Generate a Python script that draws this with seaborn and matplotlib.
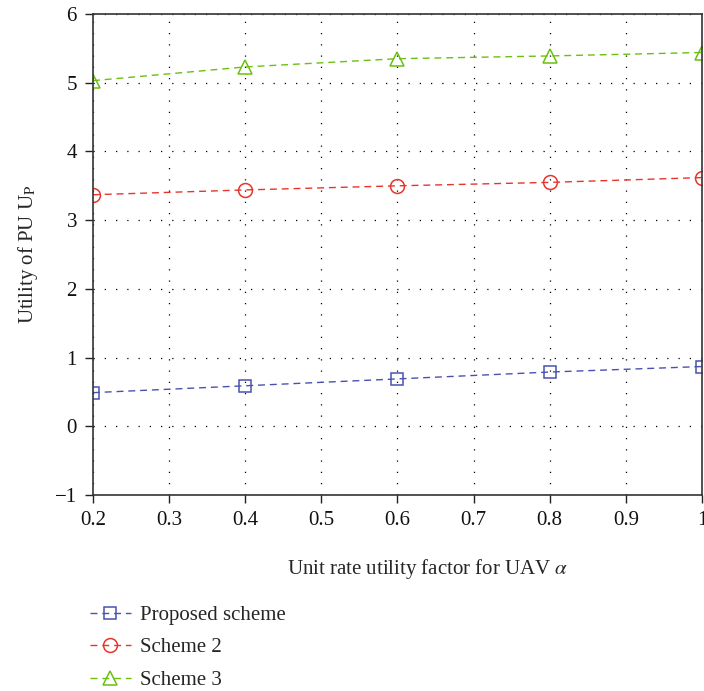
import numpy as np
import pandas as pd
import matplotlib
matplotlib.use("Agg")
import matplotlib.pyplot as plt
import seaborn as sns

# Unit rate utility factor for the UAV
alpha = [0.2, 0.4, 0.6, 0.8, 1.0]

# Utility of the PU for each scheme
proposed = [0.49, 0.59, 0.69, 0.79, 0.87]
scheme2 = [3.37, 3.44, 3.50, 3.55, 3.62]
scheme3 = [5.03, 5.23, 5.35, 5.39, 5.44]

names = ["Proposed scheme", "Scheme 2", "Scheme 3"]
x_ticks = [0.2, 0.3, 0.4, 0.5, 0.6, 0.7, 0.8, 0.9, 1.0]
x_tick_labels = ["0.2", "0.3", "0.4", "0.5", "0.6", "0.7", "0.8", "0.9", "1"]
y_ticks = [-1, 0, 1, 2, 3, 4, 5, 6]

df = pd.DataFrame({
    "alpha": alpha * 3,
    "utility": proposed + scheme2 + scheme3,
    "scheme": [n for n in names for _ in alpha],
})

sns.set_style("white")
plt.rcParams["font.family"] = ["Liberation Serif", "DejaVu Serif"]
plt.rcParams["mathtext.fontset"] = "stix"

FS = 15

colors = {"Proposed scheme": "#4a52b0", "Scheme 2": "#e8352c", "Scheme 3": "#6cc010"}
markers = {"Proposed scheme": "s", "Scheme 2": "o", "Scheme 3": "^"}

fig = plt.figure(figsize=(7.04, 6.91), dpi=100)
ax = fig.add_axes([0.132, 0.2836, 0.865, 0.6961])

for name in names:
    sub = df[df["scheme"] == name]
    sns.lineplot(data=sub, x="alpha", y="utility", ax=ax, color=colors[name],
                 marker=markers[name], markersize=10 if name != "Proposed scheme" else 9,
                 markerfacecolor="none", markeredgecolor=colors[name],
                 markeredgewidth=1.1, linewidth=1.0, dashes=(5, 3.5),
                 label=name, legend=False)

ax.set_xlim(0.2, 1.0)
ax.set_ylim(-1, 6)
ax.set_xticks(x_ticks)
ax.set_xticklabels(x_tick_labels)
ax.set_yticks(y_ticks)
ax.set_yticklabels(["\u22121", "0", "1", "2", "3", "4", "5", "6"])
ax.grid(True, color="black", linestyle=(0, (1, 8)), linewidth=0.9)
ax.tick_params(axis="both", direction="out", length=5.5, width=1, colors="#222222",
               labelsize=FS, labelcolor="#111111", bottom=True, left=True, pad=6)
for s in ax.spines.values():
    s.set_color("#333333")
    s.set_linewidth(1.2)

ax.set_xlabel(r"Unit rate utility factor for UAV $\alpha$", fontsize=FS)
ax.xaxis.set_label_coords(0.55, -0.128)
ax.set_ylabel(r"Utility of PU U$_{\mathrm{P}}$", fontsize=FS)
ax.yaxis.set_label_coords(-0.087, 0.5)

handles, labels = ax.get_legend_handles_labels()
fig.legend(handles, labels, loc="upper left", bbox_to_anchor=(0.128, 0.124),
           frameon=False, fontsize=FS, handlelength=1.95, handletextpad=0.45,
           labelspacing=0.62, borderaxespad=0, borderpad=0)

fig.savefig("out.png", dpi=100)
